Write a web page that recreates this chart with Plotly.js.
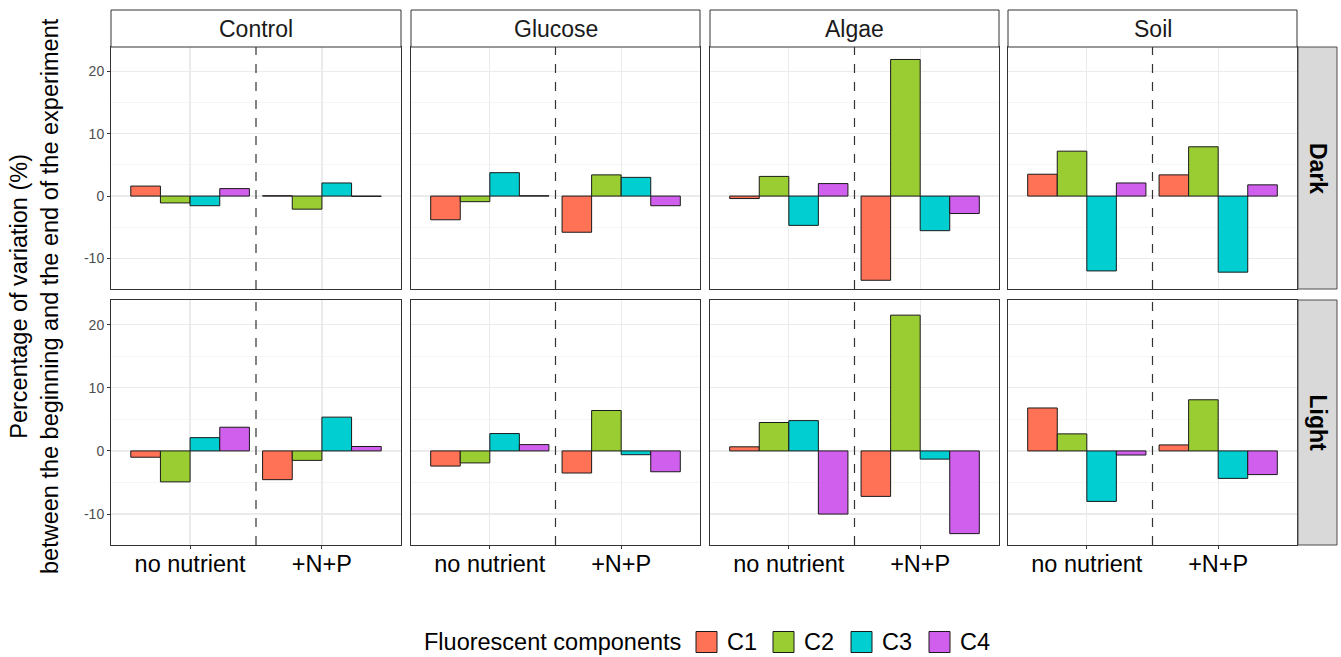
<!DOCTYPE html>
<html>
<head>
<meta charset="utf-8">
<script src="https://cdn.plot.ly/plotly-3.0.1.min.js"></script>
<style>html,body{margin:0;padding:0;background:#fff;}#chart{width:1341px;height:657px;}</style>
</head>
<body>
<div id="chart"></div>
<script>
// ---- data ----
const treatments = ["Control", "Glucose", "Algae", "Soil"];
const lights = ["Dark", "Light"];
const nutrients = ["no nutrient", "+N+P"];
const components = ["C1", "C2", "C3", "C4"];
const colors = ["#FF7256", "#9ACD32", "#00CED1", "#D15FEE"];

// values ordered: Control(nn, NP), Glucose(nn, NP), Algae(nn, NP), Soil(nn, NP)
const C1_dark  = [1.6, 0.05, -3.8, -5.8, -0.4, -13.5, 3.5, 3.4];
const C2_dark  = [-1.1, -2.1, -0.9, 3.4, 3.15, 21.9, 7.2, 7.9];
const C3_dark  = [-1.55, 2.1, 3.75, 3.0, -4.7, -5.55, -12.0, -12.2];
const C4_dark  = [1.2, -0.05, 0.05, -1.55, 2.0, -2.8, 2.1, 1.8];
const C1_light = [-1.0, -4.55, -2.4, -3.5, 0.65, -7.2, 6.8, 0.95];
const C2_light = [-4.9, -1.5, -1.9, 6.4, 4.5, 21.5, 2.7, 8.1];
const C3_light = [2.1, 5.35, 2.75, -0.6, 4.8, -1.3, -8.0, -4.35];
const C4_light = [3.75, 0.7, 1.0, -3.3, -10.0, -13.1, -0.65, -3.75];
const yTicks = [-10, 0, 10, 20];

const series = {
  Dark:  [C1_dark, C2_dark, C3_dark, C4_dark],
  Light: [C1_light, C2_light, C3_light, C4_light]
};

// ---- layout geometry (pixels) ----
const W = 1341, H = 657;
const colX = [[111, 401], [411, 700], [710, 999], [1008, 1297]];
const rowY = [[47, 289], [300, 545]];
const px = v => v / W;
const py = v => 1 - v / H;

const FONT = "Liberation Sans, Arial, sans-serif";
const traces = [];
const layout = {
  width: W, height: H,
  margin: {l: 0, r: 0, t: 0, b: 0},
  paper_bgcolor: "#fff", plot_bgcolor: "#fff",
  barmode: "group", bargap: 0.1, bargroupgap: 0,
  font: {family: FONT, color: "#000"},
  showlegend: false,
  shapes: [], annotations: []
};

lights.forEach((lt, r) => {
  treatments.forEach((tr, c) => {
    const idx = r * 4 + c + 1;
    const xa = idx === 1 ? "x" : "x" + idx;
    const ya = idx === 1 ? "y" : "y" + idx;
    components.forEach((comp, k) => {
      const arr = series[lt][k];
      traces.push({
        type: "bar",
        x: nutrients,
        y: [arr[2 * c], arr[2 * c + 1]],
        name: comp,
        legendgroup: comp,
        showlegend: false,
        marker: {color: colors[k], line: {color: "#1a1a1a", width: 1}},
        xaxis: xa, yaxis: ya,
        hoverinfo: "skip"
      });
    });
    const xKey = idx === 1 ? "xaxis" : "xaxis" + idx;
    const yKey = idx === 1 ? "yaxis" : "yaxis" + idx;
    layout[xKey] = {
      domain: [px(colX[c][0]), px(colX[c][1])],
      anchor: ya,
      type: "category",
      categoryorder: "array", categoryarray: nutrients,
      range: [-0.6, 1.6],
      showgrid: true, gridcolor: "#EBEBEB", gridwidth: 1.2,
      showline: true, mirror: true, linecolor: "#333333", linewidth: 1,
      ticks: r === 1 ? "outside" : "", ticklen: 3, tickcolor: "#333333",
      showticklabels: r === 1,
      ticklabelstandoff: -5,
      tickfont: {size: 23.5, family: FONT, color: "#000"},
      zeroline: false, fixedrange: true
    };
    layout[yKey] = {
      domain: [py(rowY[r][1]), py(rowY[r][0])],
      anchor: xa,
      range: [-14.9, 23.9],
      tickvals: yTicks, ticktext: yTicks.map(String),
      showgrid: true, gridcolor: "#EBEBEB", gridwidth: 1.2,
      minor: {tickvals: [-5, 5, 15], showgrid: true, gridcolor: "#F2F2F2", gridwidth: 0.7, ticks: ""},
      showline: true, mirror: true, linecolor: "#333333", linewidth: 1,
      ticks: c === 0 ? "outside" : "", ticklen: 3, tickcolor: "#333333",
      showticklabels: c === 0,
      tickfont: {size: 14, family: FONT, color: "#4D4D4D"},
      zeroline: false, fixedrange: true
    };
    // dashed separator between nutrient groups
    layout.shapes.push({
      type: "line", xref: xa, yref: ya + " domain",
      x0: 0.5, x1: 0.5, y0: 0, y1: 1,
      line: {color: "#333333", width: 1.2, dash: "dash"}, layer: "above"
    });
  });
});

// top strips
treatments.forEach((tr, c) => {
  layout.shapes.push({
    type: "rect", xref: "paper", yref: "paper",
    x0: px(colX[c][0]), x1: px(colX[c][1]), y0: py(47), y1: py(10),
    fillcolor: "#FFFFFF", line: {color: "#333333", width: 1}
  });
  layout.annotations.push({
    xref: "paper", yref: "paper",
    x: px((colX[c][0] + colX[c][1]) / 2), y: py(29),
    text: tr, showarrow: false, xanchor: "center", yanchor: "middle",
    font: {size: 23, family: FONT, color: "#1A1A1A"}
  });
});
// right strips
lights.forEach((lt, r) => {
  layout.shapes.push({
    type: "rect", xref: "paper", yref: "paper",
    x0: px(1298), x1: px(1337), y0: py(rowY[r][1]), y1: py(rowY[r][0]),
    fillcolor: "#D9D9D9", line: {color: "#4D4D4D", width: 1}
  });
  layout.annotations.push({
    xref: "paper", yref: "paper",
    x: px(1318), y: py((rowY[r][0] + rowY[r][1]) / 2),
    text: "<b>" + lt + "</b>", showarrow: false, textangle: 90,
    xanchor: "center", yanchor: "middle",
    font: {size: 23, family: FONT, color: "#000"}
  });
});
// y-axis title (two lines)
layout.annotations.push({
  xref: "paper", yref: "paper",
  x: px(34), y: py(296),
  text: "Percentage of variation (%)<br>between the beginning and the end of the experiment",
  showarrow: false, textangle: -90, xanchor: "center", yanchor: "middle",
  font: {size: 23.5, family: FONT, color: "#000"}
});

// legend (drawn manually to match key size)
const LY = 642;
layout.annotations.push({
  xref: "paper", yref: "paper", x: px(683), y: py(LY),
  text: "Fluorescent components", showarrow: false,
  xanchor: "right", yanchor: "middle",
  font: {size: 23.5, family: FONT, color: "#000"}
});
const keyX = [696, 773, 851, 929];
components.forEach((comp, k) => {
  layout.shapes.push({
    type: "rect", xref: "paper", yref: "paper",
    x0: px(keyX[k]), x1: px(keyX[k] + 21), y0: py(LY + 10.5), y1: py(LY - 10.5),
    fillcolor: colors[k], line: {color: "#1a1a1a", width: 1}
  });
  layout.annotations.push({
    xref: "paper", yref: "paper", x: px(keyX[k] + 29), y: py(LY),
    text: comp, showarrow: false, xanchor: "left", yanchor: "middle",
    font: {size: 23.5, family: FONT, color: "#000"}
  });
});

Plotly.newPlot("chart", traces, layout, {displayModeBar: false, staticPlot: true});
</script>
</body>
</html>
